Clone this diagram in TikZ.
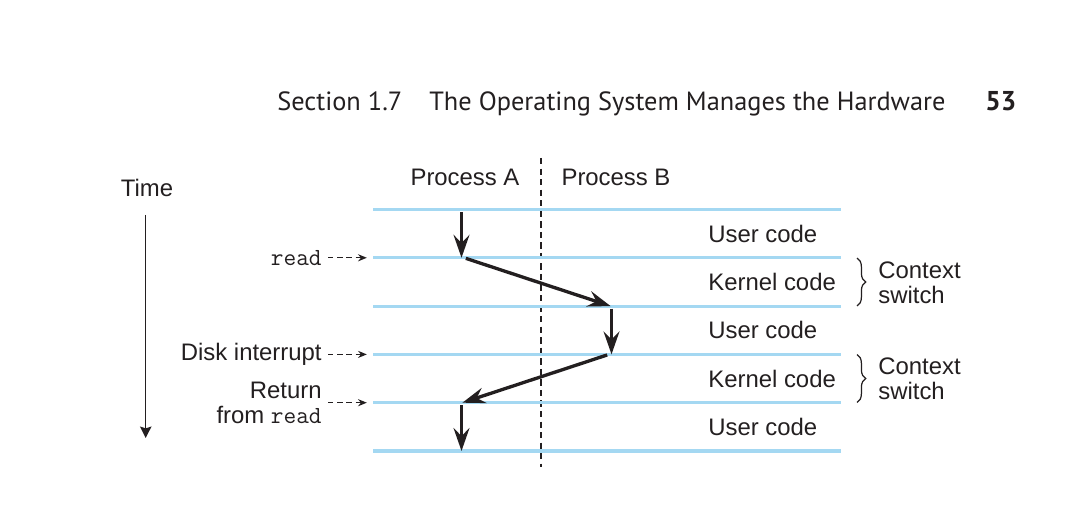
\documentclass[tikz,border=0pt]{standalone}
\usepackage{fontspec}
\setmainfont{Liberation Sans}
\newfontfamily\headfont{PT Sans}
\usetikzlibrary{arrows.meta,positioning,decorations.pathreplacing}
\definecolor{ink}{RGB}{35,31,32}
\definecolor{lightblue}{RGB}{164,216,242}
\tikzstyle{flow} = [
    line width=1.9pt,
    -{Stealth[length=13pt,width=9pt,inset=4.5pt]},
    draw=ink
]
\tikzstyle{hint} = [
    line width=0.75pt,
    dash pattern=on 3pt off 2.2pt,
    -{Stealth[length=5pt,width=4pt]},
    draw=ink
]
\tikzstyle{boundary} = [
    line width=1.8pt,
    draw=lightblue
]
\tikzstyle{txt} = [
    inner sep=0pt,
    text=ink,
    font=\fontsize{13.6}{14.5}\selectfont
]

\begin{document}
\begin{tikzpicture}[x=0.02cm, y=-0.02cm]
    \useasboundingbox (0,0) rectangle (1091,526);

    % running head
    \node[txt, anchor=base west, font=\headfont\fontsize{15}{18}\selectfont] (sec) at (277,111) {Section 1.7};
    \node[txt, anchor=base west, font=\headfont\fontsize{15}{18}\selectfont] (title) at (429,111) {The Operating System Manages the Hardware};
    \node[txt, anchor=base west, font=\headfont\bfseries\fontsize{15.5}{18}\selectfont] (page) at (985,111) {53};

    % time axis
    \node[txt] (time) at (147,188) {Time};
    \coordinate (ttop) at (145.7,215);
    \coordinate (tbot) at (145.7,438);
    \draw[line width=0.8pt, draw=ink, -{Stealth[length=6.5pt,width=6.5pt,inset=1pt]}] (ttop) -- (tbot);

    % processes
    \node[txt] (procA) at (465,177) {Process A};
    \node[txt] (procB) at (616,177) {Process B};
    \draw[draw=ink, line width=0.8pt, dash pattern=on 3.6pt off 2.4pt] (541,158) -- (541,467);

    % time slices
    \foreach \y [count=\i] in {209.5,257.8,306.1,354.4,402.7,451} {
        \draw[boundary] (373,\y) coordinate (l\i) -- (841,\y);
        \coordinate (a\i) at (461.5,\y);
        \coordinate (b\i) at (611.5,\y);
    }

    \node[txt, anchor=west] (u1) at (708,233.6) {User code};
    \node[txt, anchor=west] (k1) at (708,282) {Kernel code};
    \node[txt, anchor=west] (u2) at (708,330.3) {User code};
    \node[txt, anchor=west] (k2) at (708,378.6) {Kernel code};
    \node[txt, anchor=west] (u3) at (708,426.8) {User code};

    % control flow
    \draw[flow, shorten <=1.5pt] (a1) -- (a2);
    \draw[flow, shorten <=1pt] ([xshift=1.5pt]a2) -- ([xshift=-0.5pt]b3);
    \draw[flow, shorten <=1.5pt] (b3) -- (b4);
    \draw[flow, shorten <=1pt] ([xshift=-1.5pt]b4) -- ([xshift=0.5pt]a5);
    \draw[flow, shorten <=1.5pt] (a5) -- (a6);

    % events
    \node[txt, anchor=east, font=\ttfamily\fontsize{14}{14.5}\selectfont] (rd) at (322,258) {read};
    \node[txt, anchor=east] (disk) at (322,354.3) {Disk interrupt};
    \node[txt, anchor=east, align=right, font=\fontsize{13.6}{14.2}\selectfont] (ret) at (322,402.5) {Return\\from {\ttfamily\fontsize{14}{14.2}\selectfont read}};
    \draw[hint] ([xshift=3.5pt]rd.east |- l2) -- ([xshift=-3.5pt]l2);
    \draw[hint] ([xshift=3.5pt]disk.east |- l4) -- ([xshift=-3.5pt]l4);
    \draw[hint] ([xshift=3.5pt]ret.east |- l5) -- ([xshift=-3.5pt]l5);

    % context switches
    \draw[draw=ink, line width=0.7pt, decorate, decoration={brace, amplitude=5pt}] (857,258) -- (857,306) coordinate[midway] (br1);
    \draw[draw=ink, line width=0.7pt, decorate, decoration={brace, amplitude=5pt}] (857,354.5) -- (857,402.5) coordinate[midway] (br2);
    \node[txt, anchor=west, align=left] (cs1) at (878,283) {Context\\switch};
    \node[txt, anchor=west, align=left] (cs2) at (878,379) {Context\\switch};
\end{tikzpicture}
\end{document}
